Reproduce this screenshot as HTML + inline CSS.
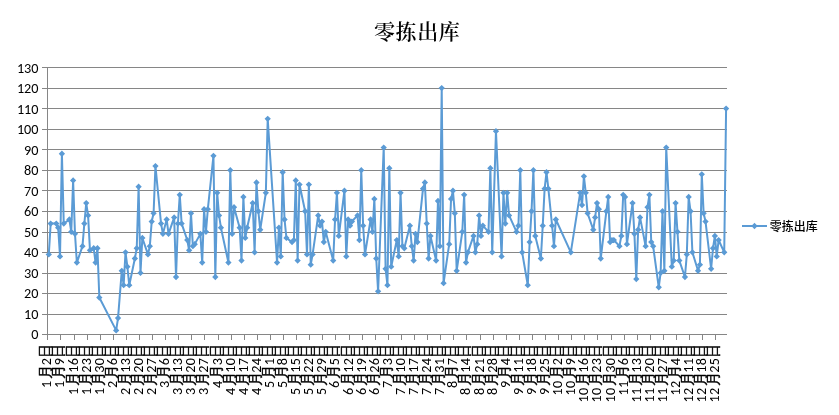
<!DOCTYPE html><html><head><meta charset="utf-8"><style>html,body{margin:0;padding:0;background:#fff;}svg{display:block}.n{font-family:Carlito,"Liberation Sans",sans-serif;font-size:14.2px;fill:#000}.c{font-family:"WenQuanYi Zen Hei Sharp","WenQuanYi Zen Hei","Noto Sans CJK SC",sans-serif;font-size:14px;fill:#000;stroke:#000;stroke-width:0.45px}</style></head><body>
<svg style="will-change:transform" width="839" height="415" viewBox="0 0 839 415">
<rect width="839" height="415" fill="#fff"/>
<text x="417.2" y="38.5" text-anchor="middle" style="font-family:'Noto Serif CJK SC',serif;font-weight:600;font-size:21px;letter-spacing:0.6px;fill:#000">零拣出库</text>
<path d="M47 67.5H727 M47 88.5H727 M47 108.5H727 M47 129.5H727 M47 149.5H727 M47 170.5H727 M47 190.5H727 M47 211.5H727 M47 232.5H727 M47 252.5H727 M47 273.5H727 M47 293.5H727 M47 314.5H727 M42 67.5H47 M42 88.5H47 M42 108.5H47 M42 129.5H47 M42 149.5H47 M42 170.5H47 M42 190.5H47 M42 211.5H47 M42 232.5H47 M42 252.5H47 M42 273.5H47 M42 293.5H47 M42 314.5H47 M42 334.5H47 M47.5 67V335 M42 334.5H727 M47.5 335V340 M60.5 335V340 M74.5 335V340 M87.5 335V340 M100.5 335V340 M113.5 335V340 M126.5 335V340 M139.5 335V340 M152.5 335V340 M165.5 335V340 M178.5 335V340 M191.5 335V340 M204.5 335V340 M218.5 335V340 M231.5 335V340 M244.5 335V340 M257.5 335V340 M270.5 335V340 M283.5 335V340 M296.5 335V340 M309.5 335V340 M322.5 335V340 M335.5 335V340 M349.5 335V340 M362.5 335V340 M375.5 335V340 M388.5 335V340 M401.5 335V340 M414.5 335V340 M427.5 335V340 M440.5 335V340 M453.5 335V340 M466.5 335V340 M480.5 335V340 M493.5 335V340 M506.5 335V340 M519.5 335V340 M532.5 335V340 M545.5 335V340 M558.5 335V340 M571.5 335V340 M584.5 335V340 M597.5 335V340 M611.5 335V340 M624.5 335V340 M637.5 335V340 M650.5 335V340 M663.5 335V340 M676.5 335V340 M689.5 335V340 M702.5 335V340 M715.5 335V340" stroke="#868686" stroke-width="1" fill="none" shape-rendering="crispEdges"/>
<text class="n" x="38.5" y="72.50" text-anchor="end">130</text>
<text class="n" x="38.5" y="93.04" text-anchor="end">120</text>
<text class="n" x="38.5" y="113.58" text-anchor="end">110</text>
<text class="n" x="38.5" y="134.11" text-anchor="end">100</text>
<text class="n" x="38.5" y="154.65" text-anchor="end">90</text>
<text class="n" x="38.5" y="175.19" text-anchor="end">80</text>
<text class="n" x="38.5" y="195.73" text-anchor="end">70</text>
<text class="n" x="38.5" y="216.27" text-anchor="end">60</text>
<text class="n" x="38.5" y="236.80" text-anchor="end">50</text>
<text class="n" x="38.5" y="257.34" text-anchor="end">40</text>
<text class="n" x="38.5" y="277.88" text-anchor="end">30</text>
<text class="n" x="38.5" y="298.42" text-anchor="end">20</text>
<text class="n" x="38.5" y="318.96" text-anchor="end">10</text>
<text class="n" x="38.5" y="339.49" text-anchor="end">0</text>
<text class="n" transform="translate(51.10,388.00) rotate(-90)">1</text>
<text class="c" transform="translate(50.00,378.90) rotate(-90)">月</text>
<text class="n" transform="translate(51.10,365.20) rotate(-90)">2</text>
<text class="c" transform="translate(50.00,357.70) rotate(-90)">日</text>
<text class="n" transform="translate(64.10,388.00) rotate(-90)">1</text>
<text class="c" transform="translate(63.00,378.90) rotate(-90)">月</text>
<text class="n" transform="translate(64.10,365.20) rotate(-90)">9</text>
<text class="c" transform="translate(63.00,357.70) rotate(-90)">日</text>
<text class="n" transform="translate(78.10,395.05) rotate(-90)">1</text>
<text class="c" transform="translate(77.00,385.95) rotate(-90)">月</text>
<text class="n" transform="translate(78.10,372.65) rotate(-90)">1</text>
<text class="n" transform="translate(78.10,365.20) rotate(-90)">6</text>
<text class="c" transform="translate(77.00,357.70) rotate(-90)">日</text>
<text class="n" transform="translate(91.10,395.05) rotate(-90)">1</text>
<text class="c" transform="translate(90.00,385.95) rotate(-90)">月</text>
<text class="n" transform="translate(91.10,372.65) rotate(-90)">2</text>
<text class="n" transform="translate(91.10,365.20) rotate(-90)">3</text>
<text class="c" transform="translate(90.00,357.70) rotate(-90)">日</text>
<text class="n" transform="translate(104.10,395.05) rotate(-90)">1</text>
<text class="c" transform="translate(103.00,385.95) rotate(-90)">月</text>
<text class="n" transform="translate(104.10,372.65) rotate(-90)">3</text>
<text class="n" transform="translate(104.10,365.20) rotate(-90)">0</text>
<text class="c" transform="translate(103.00,357.70) rotate(-90)">日</text>
<text class="n" transform="translate(117.10,388.00) rotate(-90)">2</text>
<text class="c" transform="translate(116.00,378.90) rotate(-90)">月</text>
<text class="n" transform="translate(117.10,365.20) rotate(-90)">6</text>
<text class="c" transform="translate(116.00,357.70) rotate(-90)">日</text>
<text class="n" transform="translate(130.10,395.05) rotate(-90)">2</text>
<text class="c" transform="translate(129.00,385.95) rotate(-90)">月</text>
<text class="n" transform="translate(130.10,372.65) rotate(-90)">1</text>
<text class="n" transform="translate(130.10,365.20) rotate(-90)">3</text>
<text class="c" transform="translate(129.00,357.70) rotate(-90)">日</text>
<text class="n" transform="translate(143.10,395.05) rotate(-90)">2</text>
<text class="c" transform="translate(142.00,385.95) rotate(-90)">月</text>
<text class="n" transform="translate(143.10,372.65) rotate(-90)">2</text>
<text class="n" transform="translate(143.10,365.20) rotate(-90)">0</text>
<text class="c" transform="translate(142.00,357.70) rotate(-90)">日</text>
<text class="n" transform="translate(156.10,395.05) rotate(-90)">2</text>
<text class="c" transform="translate(155.00,385.95) rotate(-90)">月</text>
<text class="n" transform="translate(156.10,372.65) rotate(-90)">2</text>
<text class="n" transform="translate(156.10,365.20) rotate(-90)">7</text>
<text class="c" transform="translate(155.00,357.70) rotate(-90)">日</text>
<text class="n" transform="translate(169.10,388.00) rotate(-90)">3</text>
<text class="c" transform="translate(168.00,378.90) rotate(-90)">月</text>
<text class="n" transform="translate(169.10,365.20) rotate(-90)">6</text>
<text class="c" transform="translate(168.00,357.70) rotate(-90)">日</text>
<text class="n" transform="translate(182.10,395.05) rotate(-90)">3</text>
<text class="c" transform="translate(181.00,385.95) rotate(-90)">月</text>
<text class="n" transform="translate(182.10,372.65) rotate(-90)">1</text>
<text class="n" transform="translate(182.10,365.20) rotate(-90)">3</text>
<text class="c" transform="translate(181.00,357.70) rotate(-90)">日</text>
<text class="n" transform="translate(195.10,395.05) rotate(-90)">3</text>
<text class="c" transform="translate(194.00,385.95) rotate(-90)">月</text>
<text class="n" transform="translate(195.10,372.65) rotate(-90)">2</text>
<text class="n" transform="translate(195.10,365.20) rotate(-90)">0</text>
<text class="c" transform="translate(194.00,357.70) rotate(-90)">日</text>
<text class="n" transform="translate(208.10,395.05) rotate(-90)">3</text>
<text class="c" transform="translate(207.00,385.95) rotate(-90)">月</text>
<text class="n" transform="translate(208.10,372.65) rotate(-90)">2</text>
<text class="n" transform="translate(208.10,365.20) rotate(-90)">7</text>
<text class="c" transform="translate(207.00,357.70) rotate(-90)">日</text>
<text class="n" transform="translate(222.10,388.00) rotate(-90)">4</text>
<text class="c" transform="translate(221.00,378.90) rotate(-90)">月</text>
<text class="n" transform="translate(222.10,365.20) rotate(-90)">3</text>
<text class="c" transform="translate(221.00,357.70) rotate(-90)">日</text>
<text class="n" transform="translate(235.10,395.05) rotate(-90)">4</text>
<text class="c" transform="translate(234.00,385.95) rotate(-90)">月</text>
<text class="n" transform="translate(235.10,372.65) rotate(-90)">1</text>
<text class="n" transform="translate(235.10,365.20) rotate(-90)">0</text>
<text class="c" transform="translate(234.00,357.70) rotate(-90)">日</text>
<text class="n" transform="translate(248.10,395.05) rotate(-90)">4</text>
<text class="c" transform="translate(247.00,385.95) rotate(-90)">月</text>
<text class="n" transform="translate(248.10,372.65) rotate(-90)">1</text>
<text class="n" transform="translate(248.10,365.20) rotate(-90)">7</text>
<text class="c" transform="translate(247.00,357.70) rotate(-90)">日</text>
<text class="n" transform="translate(261.10,395.05) rotate(-90)">4</text>
<text class="c" transform="translate(260.00,385.95) rotate(-90)">月</text>
<text class="n" transform="translate(261.10,372.65) rotate(-90)">2</text>
<text class="n" transform="translate(261.10,365.20) rotate(-90)">4</text>
<text class="c" transform="translate(260.00,357.70) rotate(-90)">日</text>
<text class="n" transform="translate(274.10,388.00) rotate(-90)">5</text>
<text class="c" transform="translate(273.00,378.90) rotate(-90)">月</text>
<text class="n" transform="translate(274.10,365.20) rotate(-90)">1</text>
<text class="c" transform="translate(273.00,357.70) rotate(-90)">日</text>
<text class="n" transform="translate(287.10,388.00) rotate(-90)">5</text>
<text class="c" transform="translate(286.00,378.90) rotate(-90)">月</text>
<text class="n" transform="translate(287.10,365.20) rotate(-90)">8</text>
<text class="c" transform="translate(286.00,357.70) rotate(-90)">日</text>
<text class="n" transform="translate(300.10,395.05) rotate(-90)">5</text>
<text class="c" transform="translate(299.00,385.95) rotate(-90)">月</text>
<text class="n" transform="translate(300.10,372.65) rotate(-90)">1</text>
<text class="n" transform="translate(300.10,365.20) rotate(-90)">5</text>
<text class="c" transform="translate(299.00,357.70) rotate(-90)">日</text>
<text class="n" transform="translate(313.10,395.05) rotate(-90)">5</text>
<text class="c" transform="translate(312.00,385.95) rotate(-90)">月</text>
<text class="n" transform="translate(313.10,372.65) rotate(-90)">2</text>
<text class="n" transform="translate(313.10,365.20) rotate(-90)">2</text>
<text class="c" transform="translate(312.00,357.70) rotate(-90)">日</text>
<text class="n" transform="translate(326.10,395.05) rotate(-90)">5</text>
<text class="c" transform="translate(325.00,385.95) rotate(-90)">月</text>
<text class="n" transform="translate(326.10,372.65) rotate(-90)">2</text>
<text class="n" transform="translate(326.10,365.20) rotate(-90)">9</text>
<text class="c" transform="translate(325.00,357.70) rotate(-90)">日</text>
<text class="n" transform="translate(339.10,388.00) rotate(-90)">6</text>
<text class="c" transform="translate(338.00,378.90) rotate(-90)">月</text>
<text class="n" transform="translate(339.10,365.20) rotate(-90)">5</text>
<text class="c" transform="translate(338.00,357.70) rotate(-90)">日</text>
<text class="n" transform="translate(353.10,395.05) rotate(-90)">6</text>
<text class="c" transform="translate(352.00,385.95) rotate(-90)">月</text>
<text class="n" transform="translate(353.10,372.65) rotate(-90)">1</text>
<text class="n" transform="translate(353.10,365.20) rotate(-90)">2</text>
<text class="c" transform="translate(352.00,357.70) rotate(-90)">日</text>
<text class="n" transform="translate(366.10,395.05) rotate(-90)">6</text>
<text class="c" transform="translate(365.00,385.95) rotate(-90)">月</text>
<text class="n" transform="translate(366.10,372.65) rotate(-90)">1</text>
<text class="n" transform="translate(366.10,365.20) rotate(-90)">9</text>
<text class="c" transform="translate(365.00,357.70) rotate(-90)">日</text>
<text class="n" transform="translate(379.10,395.05) rotate(-90)">6</text>
<text class="c" transform="translate(378.00,385.95) rotate(-90)">月</text>
<text class="n" transform="translate(379.10,372.65) rotate(-90)">2</text>
<text class="n" transform="translate(379.10,365.20) rotate(-90)">6</text>
<text class="c" transform="translate(378.00,357.70) rotate(-90)">日</text>
<text class="n" transform="translate(392.10,388.00) rotate(-90)">7</text>
<text class="c" transform="translate(391.00,378.90) rotate(-90)">月</text>
<text class="n" transform="translate(392.10,365.20) rotate(-90)">3</text>
<text class="c" transform="translate(391.00,357.70) rotate(-90)">日</text>
<text class="n" transform="translate(405.10,395.05) rotate(-90)">7</text>
<text class="c" transform="translate(404.00,385.95) rotate(-90)">月</text>
<text class="n" transform="translate(405.10,372.65) rotate(-90)">1</text>
<text class="n" transform="translate(405.10,365.20) rotate(-90)">0</text>
<text class="c" transform="translate(404.00,357.70) rotate(-90)">日</text>
<text class="n" transform="translate(418.10,395.05) rotate(-90)">7</text>
<text class="c" transform="translate(417.00,385.95) rotate(-90)">月</text>
<text class="n" transform="translate(418.10,372.65) rotate(-90)">1</text>
<text class="n" transform="translate(418.10,365.20) rotate(-90)">7</text>
<text class="c" transform="translate(417.00,357.70) rotate(-90)">日</text>
<text class="n" transform="translate(431.10,395.05) rotate(-90)">7</text>
<text class="c" transform="translate(430.00,385.95) rotate(-90)">月</text>
<text class="n" transform="translate(431.10,372.65) rotate(-90)">2</text>
<text class="n" transform="translate(431.10,365.20) rotate(-90)">4</text>
<text class="c" transform="translate(430.00,357.70) rotate(-90)">日</text>
<text class="n" transform="translate(444.10,395.05) rotate(-90)">7</text>
<text class="c" transform="translate(443.00,385.95) rotate(-90)">月</text>
<text class="n" transform="translate(444.10,372.65) rotate(-90)">3</text>
<text class="n" transform="translate(444.10,365.20) rotate(-90)">1</text>
<text class="c" transform="translate(443.00,357.70) rotate(-90)">日</text>
<text class="n" transform="translate(457.10,388.00) rotate(-90)">8</text>
<text class="c" transform="translate(456.00,378.90) rotate(-90)">月</text>
<text class="n" transform="translate(457.10,365.20) rotate(-90)">7</text>
<text class="c" transform="translate(456.00,357.70) rotate(-90)">日</text>
<text class="n" transform="translate(470.10,395.05) rotate(-90)">8</text>
<text class="c" transform="translate(469.00,385.95) rotate(-90)">月</text>
<text class="n" transform="translate(470.10,372.65) rotate(-90)">1</text>
<text class="n" transform="translate(470.10,365.20) rotate(-90)">4</text>
<text class="c" transform="translate(469.00,357.70) rotate(-90)">日</text>
<text class="n" transform="translate(484.10,395.05) rotate(-90)">8</text>
<text class="c" transform="translate(483.00,385.95) rotate(-90)">月</text>
<text class="n" transform="translate(484.10,372.65) rotate(-90)">2</text>
<text class="n" transform="translate(484.10,365.20) rotate(-90)">1</text>
<text class="c" transform="translate(483.00,357.70) rotate(-90)">日</text>
<text class="n" transform="translate(497.10,395.05) rotate(-90)">8</text>
<text class="c" transform="translate(496.00,385.95) rotate(-90)">月</text>
<text class="n" transform="translate(497.10,372.65) rotate(-90)">2</text>
<text class="n" transform="translate(497.10,365.20) rotate(-90)">8</text>
<text class="c" transform="translate(496.00,357.70) rotate(-90)">日</text>
<text class="n" transform="translate(510.10,388.00) rotate(-90)">9</text>
<text class="c" transform="translate(509.00,378.90) rotate(-90)">月</text>
<text class="n" transform="translate(510.10,365.20) rotate(-90)">4</text>
<text class="c" transform="translate(509.00,357.70) rotate(-90)">日</text>
<text class="n" transform="translate(523.10,395.05) rotate(-90)">9</text>
<text class="c" transform="translate(522.00,385.95) rotate(-90)">月</text>
<text class="n" transform="translate(523.10,372.65) rotate(-90)">1</text>
<text class="n" transform="translate(523.10,365.20) rotate(-90)">1</text>
<text class="c" transform="translate(522.00,357.70) rotate(-90)">日</text>
<text class="n" transform="translate(536.10,395.05) rotate(-90)">9</text>
<text class="c" transform="translate(535.00,385.95) rotate(-90)">月</text>
<text class="n" transform="translate(536.10,372.65) rotate(-90)">1</text>
<text class="n" transform="translate(536.10,365.20) rotate(-90)">8</text>
<text class="c" transform="translate(535.00,357.70) rotate(-90)">日</text>
<text class="n" transform="translate(549.10,395.05) rotate(-90)">9</text>
<text class="c" transform="translate(548.00,385.95) rotate(-90)">月</text>
<text class="n" transform="translate(549.10,372.65) rotate(-90)">2</text>
<text class="n" transform="translate(549.10,365.20) rotate(-90)">5</text>
<text class="c" transform="translate(548.00,357.70) rotate(-90)">日</text>
<text class="n" transform="translate(562.10,395.45) rotate(-90)">1</text>
<text class="n" transform="translate(562.10,388.00) rotate(-90)">0</text>
<text class="c" transform="translate(561.00,378.90) rotate(-90)">月</text>
<text class="n" transform="translate(562.10,365.20) rotate(-90)">2</text>
<text class="c" transform="translate(561.00,357.70) rotate(-90)">日</text>
<text class="n" transform="translate(575.10,395.45) rotate(-90)">1</text>
<text class="n" transform="translate(575.10,388.00) rotate(-90)">0</text>
<text class="c" transform="translate(574.00,378.90) rotate(-90)">月</text>
<text class="n" transform="translate(575.10,365.20) rotate(-90)">9</text>
<text class="c" transform="translate(574.00,357.70) rotate(-90)">日</text>
<text class="n" transform="translate(588.10,402.50) rotate(-90)">1</text>
<text class="n" transform="translate(588.10,395.05) rotate(-90)">0</text>
<text class="c" transform="translate(587.00,385.95) rotate(-90)">月</text>
<text class="n" transform="translate(588.10,372.65) rotate(-90)">1</text>
<text class="n" transform="translate(588.10,365.20) rotate(-90)">6</text>
<text class="c" transform="translate(587.00,357.70) rotate(-90)">日</text>
<text class="n" transform="translate(601.10,402.50) rotate(-90)">1</text>
<text class="n" transform="translate(601.10,395.05) rotate(-90)">0</text>
<text class="c" transform="translate(600.00,385.95) rotate(-90)">月</text>
<text class="n" transform="translate(601.10,372.65) rotate(-90)">2</text>
<text class="n" transform="translate(601.10,365.20) rotate(-90)">3</text>
<text class="c" transform="translate(600.00,357.70) rotate(-90)">日</text>
<text class="n" transform="translate(615.10,402.50) rotate(-90)">1</text>
<text class="n" transform="translate(615.10,395.05) rotate(-90)">0</text>
<text class="c" transform="translate(614.00,385.95) rotate(-90)">月</text>
<text class="n" transform="translate(615.10,372.65) rotate(-90)">3</text>
<text class="n" transform="translate(615.10,365.20) rotate(-90)">0</text>
<text class="c" transform="translate(614.00,357.70) rotate(-90)">日</text>
<text class="n" transform="translate(628.10,395.45) rotate(-90)">1</text>
<text class="n" transform="translate(628.10,388.00) rotate(-90)">1</text>
<text class="c" transform="translate(627.00,378.90) rotate(-90)">月</text>
<text class="n" transform="translate(628.10,365.20) rotate(-90)">6</text>
<text class="c" transform="translate(627.00,357.70) rotate(-90)">日</text>
<text class="n" transform="translate(641.10,402.50) rotate(-90)">1</text>
<text class="n" transform="translate(641.10,395.05) rotate(-90)">1</text>
<text class="c" transform="translate(640.00,385.95) rotate(-90)">月</text>
<text class="n" transform="translate(641.10,372.65) rotate(-90)">1</text>
<text class="n" transform="translate(641.10,365.20) rotate(-90)">3</text>
<text class="c" transform="translate(640.00,357.70) rotate(-90)">日</text>
<text class="n" transform="translate(654.10,402.50) rotate(-90)">1</text>
<text class="n" transform="translate(654.10,395.05) rotate(-90)">1</text>
<text class="c" transform="translate(653.00,385.95) rotate(-90)">月</text>
<text class="n" transform="translate(654.10,372.65) rotate(-90)">2</text>
<text class="n" transform="translate(654.10,365.20) rotate(-90)">0</text>
<text class="c" transform="translate(653.00,357.70) rotate(-90)">日</text>
<text class="n" transform="translate(667.10,402.50) rotate(-90)">1</text>
<text class="n" transform="translate(667.10,395.05) rotate(-90)">1</text>
<text class="c" transform="translate(666.00,385.95) rotate(-90)">月</text>
<text class="n" transform="translate(667.10,372.65) rotate(-90)">2</text>
<text class="n" transform="translate(667.10,365.20) rotate(-90)">7</text>
<text class="c" transform="translate(666.00,357.70) rotate(-90)">日</text>
<text class="n" transform="translate(680.10,395.45) rotate(-90)">1</text>
<text class="n" transform="translate(680.10,388.00) rotate(-90)">2</text>
<text class="c" transform="translate(679.00,378.90) rotate(-90)">月</text>
<text class="n" transform="translate(680.10,365.20) rotate(-90)">4</text>
<text class="c" transform="translate(679.00,357.70) rotate(-90)">日</text>
<text class="n" transform="translate(693.10,402.50) rotate(-90)">1</text>
<text class="n" transform="translate(693.10,395.05) rotate(-90)">2</text>
<text class="c" transform="translate(692.00,385.95) rotate(-90)">月</text>
<text class="n" transform="translate(693.10,372.65) rotate(-90)">1</text>
<text class="n" transform="translate(693.10,365.20) rotate(-90)">1</text>
<text class="c" transform="translate(692.00,357.70) rotate(-90)">日</text>
<text class="n" transform="translate(706.10,402.50) rotate(-90)">1</text>
<text class="n" transform="translate(706.10,395.05) rotate(-90)">2</text>
<text class="c" transform="translate(705.00,385.95) rotate(-90)">月</text>
<text class="n" transform="translate(706.10,372.65) rotate(-90)">1</text>
<text class="n" transform="translate(706.10,365.20) rotate(-90)">8</text>
<text class="c" transform="translate(705.00,357.70) rotate(-90)">日</text>
<text class="n" transform="translate(719.10,402.50) rotate(-90)">1</text>
<text class="n" transform="translate(719.10,395.05) rotate(-90)">2</text>
<text class="c" transform="translate(718.00,385.95) rotate(-90)">月</text>
<text class="n" transform="translate(719.10,372.65) rotate(-90)">2</text>
<text class="n" transform="translate(719.10,365.20) rotate(-90)">5</text>
<text class="c" transform="translate(718.00,357.70) rotate(-90)">日</text>
<polyline points="48.80,254.40 50.67,223.59 56.28,223.59 58.16,227.70 60.03,256.46 61.90,153.77 63.77,223.59 69.38,219.49 71.25,231.81 73.12,180.47 74.99,233.86 76.86,262.62 82.48,246.19 84.35,223.59 86.22,203.06 88.09,215.38 89.96,250.29 93.70,248.24 95.57,262.62 97.45,248.24 99.32,297.53 116.16,330.39 118.03,318.07 121.77,270.83 123.64,285.21 125.51,252.35 127.38,266.72 129.25,285.21 134.87,258.51 136.74,248.24 138.61,186.63 140.48,272.89 142.35,237.97 147.96,254.40 149.83,246.19 151.70,221.54 153.58,213.33 155.45,166.09 161.06,223.59 162.93,233.86 166.67,219.49 168.54,233.86 174.16,217.43 176.03,276.99 177.90,223.59 179.77,194.84 181.64,223.59 187.25,240.03 189.12,250.29 191.00,213.33 192.87,246.19 194.74,244.13 200.35,233.86 202.22,262.62 204.09,209.22 205.96,231.81 207.83,209.22 213.45,155.82 215.32,276.99 217.19,192.79 219.06,215.38 220.93,227.70 228.42,262.62 230.29,170.20 232.16,233.86 234.03,207.16 239.64,227.70 241.51,260.56 243.38,196.90 245.25,237.97 247.13,227.70 252.74,203.06 254.61,252.35 256.48,182.52 258.35,211.27 260.22,229.76 265.84,192.79 267.71,118.85 277.06,262.62 278.93,227.70 280.80,256.46 282.68,172.25 284.55,219.49 286.42,237.97 292.03,242.08 293.90,240.03 295.77,180.47 297.64,260.56 299.51,184.57 305.13,211.27 307.00,254.40 308.87,184.57 310.74,264.67 312.61,254.40 318.22,215.38 320.10,225.65 321.97,221.54 323.84,242.08 325.71,231.81 333.19,260.56 335.06,219.49 336.93,192.79 338.81,235.92 344.42,190.73 346.29,256.46 348.16,219.49 350.03,225.65 351.90,221.54 357.51,215.38 359.39,240.03 361.26,170.20 363.13,225.65 365.00,254.40 370.61,219.49 372.48,231.81 374.35,198.95 376.23,258.51 378.10,291.37 383.71,147.60 385.58,268.78 387.45,285.21 389.32,168.14 391.19,266.72 396.81,240.03 398.68,256.46 400.55,192.79 402.42,246.19 404.29,248.24 409.90,225.65 411.77,246.19 413.65,260.56 415.52,233.86 417.39,242.08 423.00,188.68 424.87,182.52 426.74,223.59 428.61,258.51 430.48,235.92 436.10,260.56 437.97,201.00 439.84,246.19 441.71,88.04 443.58,283.15 449.19,244.13 451.06,198.95 452.94,190.73 454.81,213.33 456.68,270.83 462.29,231.81 464.16,194.84 466.03,262.62 467.90,252.35 473.52,235.92 475.39,252.35 477.26,244.13 479.13,215.38 481.00,235.92 482.87,225.65 488.49,231.81 490.36,168.14 492.23,252.35 495.97,131.17 501.58,256.46 503.45,192.79 505.32,223.59 507.19,192.79 509.07,215.38 516.55,231.81 518.42,225.65 520.29,170.20 522.16,252.35 527.78,285.21 529.65,242.08 531.52,211.27 533.39,170.20 535.26,235.92 540.87,258.51 542.74,225.65 544.62,188.68 546.49,172.25 548.36,188.68 552.10,225.65 553.97,246.19 555.84,219.49 570.81,252.35 580.16,192.79 582.03,205.11 583.91,176.36 585.78,192.79 587.65,213.33 593.26,229.76 595.13,217.43 597.00,203.06 598.87,209.22 600.75,258.51 606.36,211.27 608.23,196.90 610.10,242.08 611.97,240.03 613.84,240.03 619.45,246.19 621.33,235.92 623.20,194.84 625.07,196.90 626.94,244.13 632.55,203.06 634.42,233.86 636.29,279.05 638.16,229.76 640.04,217.43 645.65,246.19 647.52,207.16 649.39,194.84 651.26,242.08 653.13,246.19 658.75,287.26 660.62,272.89 662.49,211.27 664.36,270.83 666.23,147.60 671.84,266.72 673.71,260.56 675.58,203.06 677.46,231.81 679.33,260.56 684.94,276.99 686.81,254.40 688.68,196.90 690.55,211.27 692.42,252.35 698.04,270.83 699.91,264.67 701.78,174.30 703.65,213.33 705.52,221.54 711.13,268.78 713.00,248.24 714.88,235.92 716.75,256.46 718.62,240.03 724.23,252.35 726.10,108.58" fill="none" stroke="#5B9BD5" stroke-width="2.0" stroke-linejoin="round" stroke-linecap="round"/>
<path d="M48.80 251.25L51.95 254.40L48.80 257.55L45.65 254.40ZM50.67 220.44L53.82 223.59L50.67 226.74L47.52 223.59ZM56.28 220.44L59.43 223.59L56.28 226.74L53.13 223.59ZM58.16 224.55L61.30 227.70L58.16 230.85L55.01 227.70ZM60.03 253.31L63.18 256.46L60.03 259.61L56.88 256.46ZM61.90 150.62L65.05 153.77L61.90 156.92L58.75 153.77ZM63.77 220.44L66.92 223.59L63.77 226.74L60.62 223.59ZM69.38 216.34L72.53 219.49L69.38 222.64L66.23 219.49ZM71.25 228.66L74.40 231.81L71.25 234.96L68.10 231.81ZM73.12 177.31L76.27 180.47L73.12 183.62L69.97 180.47ZM74.99 230.71L78.14 233.86L74.99 237.01L71.84 233.86ZM76.86 259.47L80.02 262.62L76.86 265.77L73.71 262.62ZM82.48 243.04L85.63 246.19L82.48 249.34L79.33 246.19ZM84.35 220.44L87.50 223.59L84.35 226.74L81.20 223.59ZM86.22 199.91L89.37 203.06L86.22 206.21L83.07 203.06ZM88.09 212.23L91.24 215.38L88.09 218.53L84.94 215.38ZM89.96 247.14L93.11 250.29L89.96 253.44L86.81 250.29ZM93.70 245.09L96.85 248.24L93.70 251.39L90.55 248.24ZM95.57 259.47L98.72 262.62L95.57 265.77L92.42 262.62ZM97.45 245.09L100.60 248.24L97.45 251.39L94.30 248.24ZM99.32 294.38L102.47 297.53L99.32 300.68L96.17 297.53ZM116.16 327.24L119.31 330.39L116.16 333.54L113.01 330.39ZM118.03 314.92L121.18 318.07L118.03 321.22L114.88 318.07ZM121.77 267.68L124.92 270.83L121.77 273.98L118.62 270.83ZM123.64 282.06L126.79 285.21L123.64 288.36L120.49 285.21ZM125.51 249.20L128.66 252.35L125.51 255.50L122.36 252.35ZM127.38 263.57L130.53 266.72L127.38 269.87L124.23 266.72ZM129.25 282.06L132.40 285.21L129.25 288.36L126.10 285.21ZM134.87 255.36L138.02 258.51L134.87 261.66L131.72 258.51ZM136.74 245.09L139.89 248.24L136.74 251.39L133.59 248.24ZM138.61 183.48L141.76 186.63L138.61 189.78L135.46 186.63ZM140.48 269.74L143.63 272.89L140.48 276.04L137.33 272.89ZM142.35 234.82L145.50 237.97L142.35 241.12L139.20 237.97ZM147.96 251.25L151.11 254.40L147.96 257.55L144.81 254.40ZM149.83 243.04L152.98 246.19L149.83 249.34L146.68 246.19ZM151.70 218.39L154.85 221.54L151.70 224.69L148.55 221.54ZM153.58 210.18L156.73 213.33L153.58 216.48L150.43 213.33ZM155.45 162.94L158.60 166.09L155.45 169.24L152.30 166.09ZM161.06 220.44L164.21 223.59L161.06 226.74L157.91 223.59ZM162.93 230.71L166.08 233.86L162.93 237.01L159.78 233.86ZM166.67 216.34L169.82 219.49L166.67 222.64L163.52 219.49ZM168.54 230.71L171.69 233.86L168.54 237.01L165.39 233.86ZM174.16 214.28L177.31 217.43L174.16 220.58L171.01 217.43ZM176.03 273.84L179.18 276.99L176.03 280.14L172.88 276.99ZM177.90 220.44L181.05 223.59L177.90 226.74L174.75 223.59ZM179.77 191.69L182.92 194.84L179.77 197.99L176.62 194.84ZM181.64 220.44L184.79 223.59L181.64 226.74L178.49 223.59ZM187.25 236.88L190.40 240.03L187.25 243.18L184.10 240.03ZM189.12 247.14L192.28 250.29L189.12 253.44L185.97 250.29ZM191.00 210.18L194.15 213.33L191.00 216.48L187.85 213.33ZM192.87 243.04L196.02 246.19L192.87 249.34L189.72 246.19ZM194.74 240.98L197.89 244.13L194.74 247.28L191.59 244.13ZM200.35 230.71L203.50 233.86L200.35 237.01L197.20 233.86ZM202.22 259.47L205.37 262.62L202.22 265.77L199.07 262.62ZM204.09 206.07L207.24 209.22L204.09 212.37L200.94 209.22ZM205.96 228.66L209.11 231.81L205.96 234.96L202.81 231.81ZM207.83 206.07L210.98 209.22L207.83 212.37L204.68 209.22ZM213.45 152.67L216.60 155.82L213.45 158.97L210.30 155.82ZM215.32 273.84L218.47 276.99L215.32 280.14L212.17 276.99ZM217.19 189.64L220.34 192.79L217.19 195.94L214.04 192.79ZM219.06 212.23L222.21 215.38L219.06 218.53L215.91 215.38ZM220.93 224.55L224.08 227.70L220.93 230.85L217.78 227.70ZM228.42 259.47L231.57 262.62L228.42 265.77L225.27 262.62ZM230.29 167.05L233.44 170.20L230.29 173.35L227.14 170.20ZM232.16 230.71L235.31 233.86L232.16 237.01L229.01 233.86ZM234.03 204.01L237.18 207.16L234.03 210.31L230.88 207.16ZM239.64 224.55L242.79 227.70L239.64 230.85L236.49 227.70ZM241.51 257.41L244.66 260.56L241.51 263.71L238.36 260.56ZM243.38 193.75L246.53 196.90L243.38 200.05L240.23 196.90ZM245.25 234.82L248.41 237.97L245.25 241.12L242.10 237.97ZM247.13 224.55L250.28 227.70L247.13 230.85L243.98 227.70ZM252.74 199.91L255.89 203.06L252.74 206.21L249.59 203.06ZM254.61 249.20L257.76 252.35L254.61 255.50L251.46 252.35ZM256.48 179.37L259.63 182.52L256.48 185.67L253.33 182.52ZM258.35 208.12L261.50 211.27L258.35 214.42L255.20 211.27ZM260.22 226.61L263.37 229.76L260.22 232.91L257.07 229.76ZM265.84 189.64L268.99 192.79L265.84 195.94L262.69 192.79ZM267.71 115.70L270.86 118.85L267.71 122.00L264.56 118.85ZM277.06 259.47L280.21 262.62L277.06 265.77L273.91 262.62ZM278.93 224.55L282.08 227.70L278.93 230.85L275.78 227.70ZM280.80 253.31L283.95 256.46L280.80 259.61L277.65 256.46ZM282.68 169.10L285.82 172.25L282.68 175.40L279.53 172.25ZM284.55 216.34L287.70 219.49L284.55 222.64L281.40 219.49ZM286.42 234.82L289.57 237.97L286.42 241.12L283.27 237.97ZM292.03 238.93L295.18 242.08L292.03 245.23L288.88 242.08ZM293.90 236.88L297.05 240.03L293.90 243.18L290.75 240.03ZM295.77 177.31L298.92 180.47L295.77 183.62L292.62 180.47ZM297.64 257.41L300.79 260.56L297.64 263.71L294.49 260.56ZM299.51 181.42L302.66 184.57L299.51 187.72L296.36 184.57ZM305.13 208.12L308.28 211.27L305.13 214.42L301.98 211.27ZM307.00 251.25L310.15 254.40L307.00 257.55L303.85 254.40ZM308.87 181.42L312.02 184.57L308.87 187.72L305.72 184.57ZM310.74 261.52L313.89 264.67L310.74 267.82L307.59 264.67ZM312.61 251.25L315.76 254.40L312.61 257.55L309.46 254.40ZM318.22 212.23L321.37 215.38L318.22 218.53L315.07 215.38ZM320.10 222.50L323.25 225.65L320.10 228.80L316.95 225.65ZM321.97 218.39L325.12 221.54L321.97 224.69L318.82 221.54ZM323.84 238.93L326.99 242.08L323.84 245.23L320.69 242.08ZM325.71 228.66L328.86 231.81L325.71 234.96L322.56 231.81ZM333.19 257.41L336.34 260.56L333.19 263.71L330.04 260.56ZM335.06 216.34L338.21 219.49L335.06 222.64L331.91 219.49ZM336.93 189.64L340.08 192.79L336.93 195.94L333.78 192.79ZM338.81 232.77L341.95 235.92L338.81 239.07L335.66 235.92ZM344.42 187.58L347.57 190.73L344.42 193.88L341.27 190.73ZM346.29 253.31L349.44 256.46L346.29 259.61L343.14 256.46ZM348.16 216.34L351.31 219.49L348.16 222.64L345.01 219.49ZM350.03 222.50L353.18 225.65L350.03 228.80L346.88 225.65ZM351.90 218.39L355.05 221.54L351.90 224.69L348.75 221.54ZM357.51 212.23L360.66 215.38L357.51 218.53L354.37 215.38ZM359.39 236.88L362.54 240.03L359.39 243.18L356.24 240.03ZM361.26 167.05L364.41 170.20L361.26 173.35L358.11 170.20ZM363.13 222.50L366.28 225.65L363.13 228.80L359.98 225.65ZM365.00 251.25L368.15 254.40L365.00 257.55L361.85 254.40ZM370.61 216.34L373.76 219.49L370.61 222.64L367.46 219.49ZM372.48 228.66L375.63 231.81L372.48 234.96L369.33 231.81ZM374.35 195.80L377.50 198.95L374.35 202.10L371.20 198.95ZM376.23 255.36L379.38 258.51L376.23 261.66L373.08 258.51ZM378.10 288.22L381.25 291.37L378.10 294.52L374.95 291.37ZM383.71 144.45L386.86 147.60L383.71 150.75L380.56 147.60ZM385.58 265.63L388.73 268.78L385.58 271.93L382.43 268.78ZM387.45 282.06L390.60 285.21L387.45 288.36L384.30 285.21ZM389.32 164.99L392.47 168.14L389.32 171.29L386.17 168.14ZM391.19 263.57L394.34 266.72L391.19 269.87L388.04 266.72ZM396.81 236.88L399.96 240.03L396.81 243.18L393.66 240.03ZM398.68 253.31L401.83 256.46L398.68 259.61L395.53 256.46ZM400.55 189.64L403.70 192.79L400.55 195.94L397.40 192.79ZM402.42 243.04L405.57 246.19L402.42 249.34L399.27 246.19ZM404.29 245.09L407.44 248.24L404.29 251.39L401.14 248.24ZM409.90 222.50L413.05 225.65L409.90 228.80L406.75 225.65ZM411.77 243.04L414.92 246.19L411.77 249.34L408.62 246.19ZM413.65 257.41L416.80 260.56L413.65 263.71L410.50 260.56ZM415.52 230.71L418.67 233.86L415.52 237.01L412.37 233.86ZM417.39 238.93L420.54 242.08L417.39 245.23L414.24 242.08ZM423.00 185.53L426.15 188.68L423.00 191.83L419.85 188.68ZM424.87 179.37L428.02 182.52L424.87 185.67L421.72 182.52ZM426.74 220.44L429.89 223.59L426.74 226.74L423.59 223.59ZM428.61 255.36L431.76 258.51L428.61 261.66L425.46 258.51ZM430.48 232.77L433.63 235.92L430.48 239.07L427.33 235.92ZM436.10 257.41L439.25 260.56L436.10 263.71L432.95 260.56ZM437.97 197.85L441.12 201.00L437.97 204.15L434.82 201.00ZM439.84 243.04L442.99 246.19L439.84 249.34L436.69 246.19ZM441.71 84.89L444.86 88.04L441.71 91.19L438.56 88.04ZM443.58 280.00L446.73 283.15L443.58 286.30L440.43 283.15ZM449.19 240.98L452.34 244.13L449.19 247.28L446.04 244.13ZM451.06 195.80L454.21 198.95L451.06 202.10L447.92 198.95ZM452.94 187.58L456.09 190.73L452.94 193.88L449.79 190.73ZM454.81 210.18L457.96 213.33L454.81 216.48L451.66 213.33ZM456.68 267.68L459.83 270.83L456.68 273.98L453.53 270.83ZM462.29 228.66L465.44 231.81L462.29 234.96L459.14 231.81ZM464.16 191.69L467.31 194.84L464.16 197.99L461.01 194.84ZM466.03 259.47L469.18 262.62L466.03 265.77L462.88 262.62ZM467.90 249.20L471.05 252.35L467.90 255.50L464.75 252.35ZM473.52 232.77L476.67 235.92L473.52 239.07L470.37 235.92ZM475.39 249.20L478.54 252.35L475.39 255.50L472.24 252.35ZM477.26 240.98L480.41 244.13L477.26 247.28L474.11 244.13ZM479.13 212.23L482.28 215.38L479.13 218.53L475.98 215.38ZM481.00 232.77L484.15 235.92L481.00 239.07L477.85 235.92ZM482.87 222.50L486.02 225.65L482.87 228.80L479.72 225.65ZM488.49 228.66L491.63 231.81L488.49 234.96L485.34 231.81ZM490.36 164.99L493.51 168.14L490.36 171.29L487.21 168.14ZM492.23 249.20L495.38 252.35L492.23 255.50L489.08 252.35ZM495.97 128.02L499.12 131.17L495.97 134.32L492.82 131.17ZM501.58 253.31L504.73 256.46L501.58 259.61L498.43 256.46ZM503.45 189.64L506.60 192.79L503.45 195.94L500.30 192.79ZM505.32 220.44L508.47 223.59L505.32 226.74L502.17 223.59ZM507.19 189.64L510.34 192.79L507.19 195.94L504.05 192.79ZM509.07 212.23L512.22 215.38L509.07 218.53L505.92 215.38ZM516.55 228.66L519.70 231.81L516.55 234.96L513.40 231.81ZM518.42 222.50L521.57 225.65L518.42 228.80L515.27 225.65ZM520.29 167.05L523.44 170.20L520.29 173.35L517.14 170.20ZM522.16 249.20L525.31 252.35L522.16 255.50L519.01 252.35ZM527.78 282.06L530.93 285.21L527.78 288.36L524.63 285.21ZM529.65 238.93L532.80 242.08L529.65 245.23L526.50 242.08ZM531.52 208.12L534.67 211.27L531.52 214.42L528.37 211.27ZM533.39 167.05L536.54 170.20L533.39 173.35L530.24 170.20ZM535.26 232.77L538.41 235.92L535.26 239.07L532.11 235.92ZM540.87 255.36L544.02 258.51L540.87 261.66L537.72 258.51ZM542.74 222.50L545.89 225.65L542.74 228.80L539.59 225.65ZM544.62 185.53L547.76 188.68L544.62 191.83L541.47 188.68ZM546.49 169.10L549.64 172.25L546.49 175.40L543.34 172.25ZM548.36 185.53L551.51 188.68L548.36 191.83L545.21 188.68ZM552.10 222.50L555.25 225.65L552.10 228.80L548.95 225.65ZM553.97 243.04L557.12 246.19L553.97 249.34L550.82 246.19ZM555.84 216.34L558.99 219.49L555.84 222.64L552.69 219.49ZM570.81 249.20L573.96 252.35L570.81 255.50L567.66 252.35ZM580.16 189.64L583.31 192.79L580.16 195.94L577.01 192.79ZM582.03 201.96L585.18 205.11L582.03 208.26L578.88 205.11ZM583.91 173.21L587.06 176.36L583.91 179.51L580.76 176.36ZM585.78 189.64L588.93 192.79L585.78 195.94L582.63 192.79ZM587.65 210.18L590.80 213.33L587.65 216.48L584.50 213.33ZM593.26 226.61L596.41 229.76L593.26 232.91L590.11 229.76ZM595.13 214.28L598.28 217.43L595.13 220.58L591.98 217.43ZM597.00 199.91L600.15 203.06L597.00 206.21L593.85 203.06ZM598.87 206.07L602.02 209.22L598.87 212.37L595.72 209.22ZM600.75 255.36L603.89 258.51L600.75 261.66L597.60 258.51ZM606.36 208.12L609.51 211.27L606.36 214.42L603.21 211.27ZM608.23 193.75L611.38 196.90L608.23 200.05L605.08 196.90ZM610.10 238.93L613.25 242.08L610.10 245.23L606.95 242.08ZM611.97 236.88L615.12 240.03L611.97 243.18L608.82 240.03ZM613.84 236.88L616.99 240.03L613.84 243.18L610.69 240.03ZM619.45 243.04L622.60 246.19L619.45 249.34L616.30 246.19ZM621.33 232.77L624.48 235.92L621.33 239.07L618.18 235.92ZM623.20 191.69L626.35 194.84L623.20 197.99L620.05 194.84ZM625.07 193.75L628.22 196.90L625.07 200.05L621.92 196.90ZM626.94 240.98L630.09 244.13L626.94 247.28L623.79 244.13ZM632.55 199.91L635.70 203.06L632.55 206.21L629.40 203.06ZM634.42 230.71L637.57 233.86L634.42 237.01L631.27 233.86ZM636.29 275.90L639.44 279.05L636.29 282.20L633.14 279.05ZM638.16 226.61L641.31 229.76L638.16 232.91L635.01 229.76ZM640.04 214.28L643.19 217.43L640.04 220.58L636.89 217.43ZM645.65 243.04L648.80 246.19L645.65 249.34L642.50 246.19ZM647.52 204.01L650.67 207.16L647.52 210.31L644.37 207.16ZM649.39 191.69L652.54 194.84L649.39 197.99L646.24 194.84ZM651.26 238.93L654.41 242.08L651.26 245.23L648.11 242.08ZM653.13 243.04L656.28 246.19L653.13 249.34L649.98 246.19ZM658.75 284.11L661.90 287.26L658.75 290.41L655.60 287.26ZM660.62 269.74L663.77 272.89L660.62 276.04L657.47 272.89ZM662.49 208.12L665.64 211.27L662.49 214.42L659.34 211.27ZM664.36 267.68L667.51 270.83L664.36 273.98L661.21 270.83ZM666.23 144.45L669.38 147.60L666.23 150.75L663.08 147.60ZM671.84 263.57L674.99 266.72L671.84 269.87L668.69 266.72ZM673.71 257.41L676.86 260.56L673.71 263.71L670.56 260.56ZM675.58 199.91L678.73 203.06L675.58 206.21L672.43 203.06ZM677.46 228.66L680.61 231.81L677.46 234.96L674.31 231.81ZM679.33 257.41L682.48 260.56L679.33 263.71L676.18 260.56ZM684.94 273.84L688.09 276.99L684.94 280.14L681.79 276.99ZM686.81 251.25L689.96 254.40L686.81 257.55L683.66 254.40ZM688.68 193.75L691.83 196.90L688.68 200.05L685.53 196.90ZM690.55 208.12L693.70 211.27L690.55 214.42L687.40 211.27ZM692.42 249.20L695.57 252.35L692.42 255.50L689.27 252.35ZM698.04 267.68L701.19 270.83L698.04 273.98L694.89 270.83ZM699.91 261.52L703.06 264.67L699.91 267.82L696.76 264.67ZM701.78 171.15L704.93 174.30L701.78 177.45L698.63 174.30ZM703.65 210.18L706.80 213.33L703.65 216.48L700.50 213.33ZM705.52 218.39L708.67 221.54L705.52 224.69L702.37 221.54ZM711.13 265.63L714.28 268.78L711.13 271.93L707.98 268.78ZM713.00 245.09L716.15 248.24L713.00 251.39L709.86 248.24ZM714.88 232.77L718.03 235.92L714.88 239.07L711.73 235.92ZM716.75 253.31L719.90 256.46L716.75 259.61L713.60 256.46ZM718.62 236.88L721.77 240.03L718.62 243.18L715.47 240.03ZM724.23 249.20L727.38 252.35L724.23 255.50L721.08 252.35ZM726.10 105.43L729.25 108.58L726.10 111.73L722.95 108.58Z" fill="#5B9BD5" stroke="none"/>
<path d="M742 226H767" stroke="#5B9BD5" stroke-width="2"/>
<path d="M754.5 222.85L757.65 226L754.5 229.15L751.35 226Z" fill="#5B9BD5"/>
<text x="769.8" y="231.4" style="font-family:'Noto Sans CJK SC',sans-serif;font-weight:500;font-size:12px;fill:#000">零拣出库</text>
</svg></body></html>
